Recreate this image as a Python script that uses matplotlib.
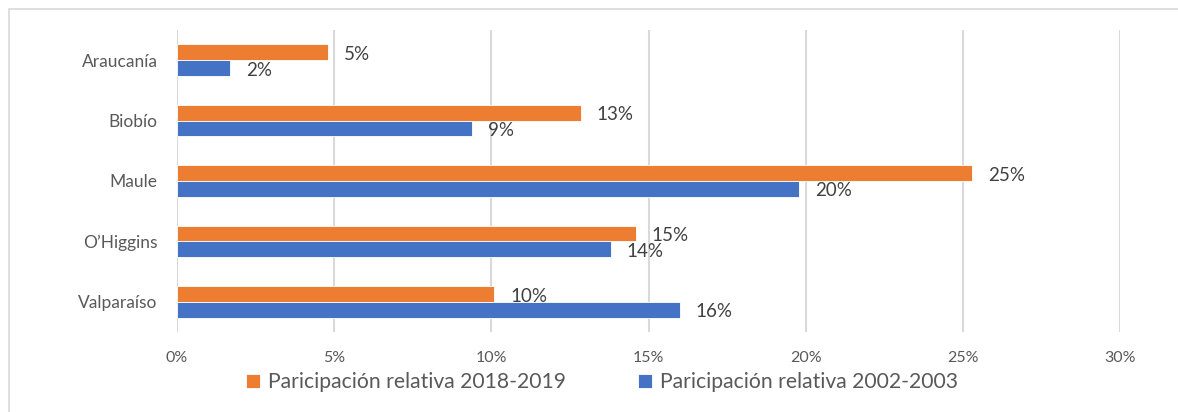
"""Participación relativa por región, 2002-2003 vs 2018-2019."""

import numpy as np
import matplotlib.pyplot as plt
from matplotlib.patches import Rectangle

# data (top to bottom as shown)
regiones = ['Araucanía', 'Biobío', 'Maule', "O’Higgins", 'Valparaíso']
part_2018 = [4.8, 12.85, 25.3, 14.6, 10.1]
part_2002 = [1.7, 9.4, 19.8, 13.8, 16.0]
etq_2018 = ['5%', '13%', '25%', '15%', '10%']
etq_2002 = ['2%', '9%', '20%', '14%', '16%']
xticks = [0, 5, 10, 15, 20, 25, 30]

naranja = '#ED7D31'
azul = '#4472C4'
gris_txt = '#595959'

plt.rcParams['font.family'] = ['Lato', 'DejaVu Sans']

fig = plt.figure(figsize=(11.78, 4.12), dpi=100)
ax = fig.add_axes([177 / 1178, 1 - 332 / 412, (1120 - 177) / 1178, 302 / 412])

y = np.arange(len(regiones))[::-1]
h = 0.26
b1 = ax.barh(y + h / 2, part_2018, height=h, color=naranja, edgecolor='white',
             linewidth=0.6, label='Paricipación relativa 2018-2019', zorder=3)
b2 = ax.barh(y - h / 2, part_2002, height=h, color=azul, edgecolor='white',
             linewidth=0.6, label='Paricipación relativa 2002-2003', zorder=3)

for bars, etqs in ((b1, etq_2018), (b2, etq_2002)):
    for bar, t in zip(bars, etqs):
        ax.annotate(t, (bar.get_width(), bar.get_y() + bar.get_height() / 2),
                    xytext=(11.5, -1.5), textcoords='offset points',
                    ha='left', va='center', fontsize=13.5, color='#404040')

ax.set_xlim(0, 30)
ax.set_ylim(-0.5, len(regiones) - 0.5)
ax.set_xticks(xticks)
ax.set_xticklabels([f'{v}%' for v in xticks], fontsize=11.5, color=gris_txt)
ax.set_yticks(y)
ax.set_yticklabels(regiones, fontsize=12.5, color=gris_txt)
ax.tick_params(length=0)
ax.tick_params(axis='y', pad=14)
ax.tick_params(axis='x', pad=14)
ax.grid(axis='x', color='#D9D9D9', linewidth=1.5, zorder=0)
for s in ax.spines.values():
    s.set_visible(False)

fig.legend(handles=[b1, b2], loc='center', bbox_to_anchor=(602 / 1178, 1 - 382 / 412),
           ncol=2, frameon=False, fontsize=15.2, handlelength=0.65, handleheight=0.65,
           handletextpad=0.4, columnspacing=3.4, labelcolor=gris_txt)

# chart frame (only top and left edges fall inside the picture)
fig.patches.append(Rectangle((9 / 1178, -0.1), 1.2, 1 - 9 / 412 + 0.1,
                             transform=fig.transFigure, fill=False,
                             edgecolor='#D9D9D9', linewidth=1.2))

fig.savefig('out.png', dpi=100)
